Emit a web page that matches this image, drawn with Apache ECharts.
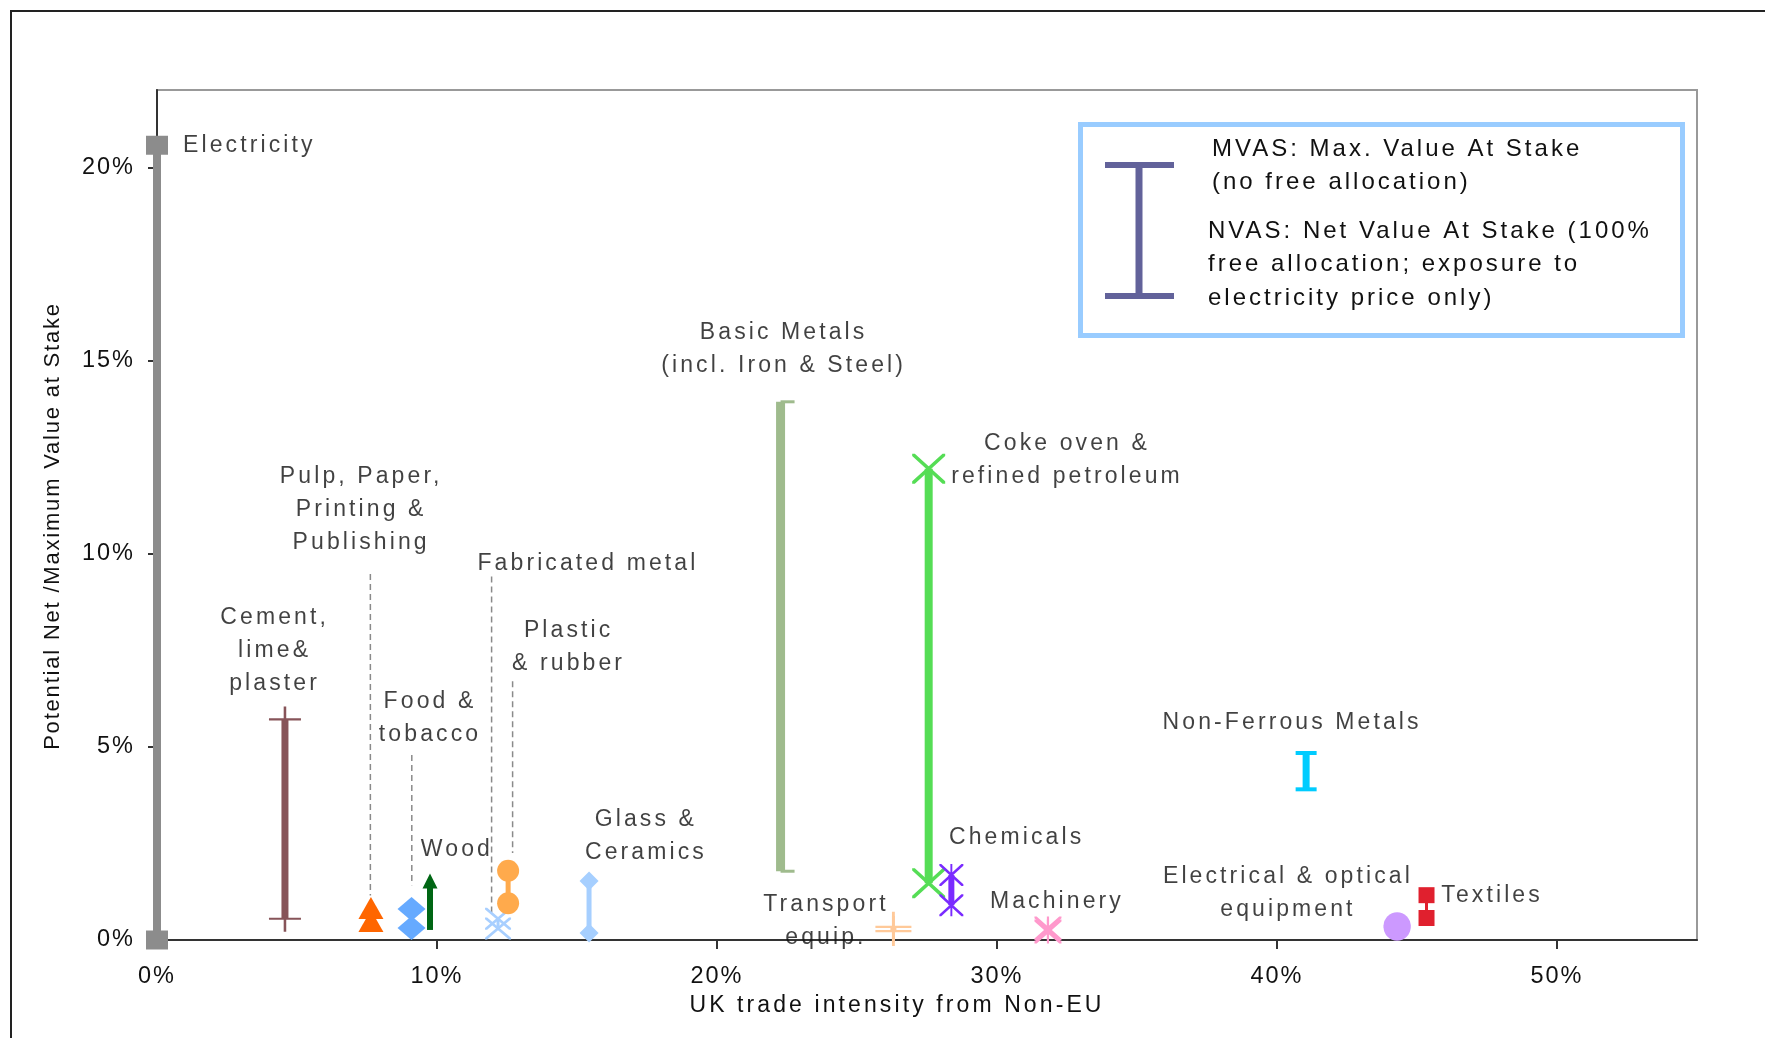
<!DOCTYPE html>
<html>
<head>
<meta charset="utf-8">
<script src="https://cdn.jsdelivr.net/npm/echarts@6/dist/echarts.min.js"></script>
<style>html,body{margin:0;padding:0;background:#fff}#c{width:1765px;height:1038px}</style>
</head>
<body>
<div id="c"></div>
<script>
// ---------- data ----------
const sectors = ['Electricity','Cement, lime& plaster','Pulp, Paper, Printing & Publishing','Food & tobacco','Wood','Fabricated metal','Plastic & rubber','Glass & Ceramics','Basic Metals (incl. Iron & Steel)','Coke oven & refined petroleum','Chemicals','Transport equip.','Machinery','Non-Ferrous Metals','Electrical & optical equipment','Textiles'];
const tradeIntensity = [0, 4.57, 7.64, 9.09, 9.75, 12.18, 12.54, 15.43, 22.27, 27.56, 28.37, 26.3, 31.82, 41.04, 44.29, 45.34];
const nvas = [0, 0.55, 0.49, 0.31, 0.26, 0.30, 0.95, 0.18, 1.78, 1.47, 0.90, 0.23, 0.22, 3.90, 0.33, 0.57];
const mvas = [20.57, 5.71, 0.83, 0.80, 1.53, 0.55, 1.79, 1.53, 13.93, 12.20, 1.68, 0.34, 0.30, 4.84, 0.37, 1.16];
const labelTexts = ['Electricity','Cement,\nlime&\nplaster','Pulp, Paper,\nPrinting &\nPublishing','Food &\ntobacco','Wood','Fabricated metal','Plastic\n& rubber','Glass &\nCeramics','Basic Metals\n(incl. Iron & Steel)','Coke oven &\nrefined petroleum','Chemicals','Transport\nequip.','Machinery','Non-Ferrous Metals','Electrical & optical\nequipment','Textiles'];
const xTicks = [0, 10, 20, 30, 40, 50];
const yTicks = [0, 5, 10, 15, 20];
const legendLines = ['MVAS: Max. Value At Stake', '(no free allocation)', 'NVAS: Net Value At Stake (100%', 'free allocation; exposure to', 'electricity price only)'];

// ---------- layout / style (kept apart from data) ----------
const PLUS = 'path://M0,46L100,46L100,54L0,54Z M46,0L54,0L54,100L46,100Z';
const XMARK = 'path://M0,0L8,0L100,92L100,100L92,100L0,8Z M92,0L100,0L100,8L8,100L0,100L0,92Z';
const STAR = 'path://M0,0L8,0L100,92L100,100L92,100L0,8Z M92,0L100,0L100,8L8,100L0,100L0,92Z M46,0L54,0L54,100L46,100Z';
const styles = [
  {color:'#8C8C8C', lw:8, sym:'rect', size:[22,19]},
  {color:'#875459', lw:7, sym:PLUS, size:[32,26]},
  {color:'#FF6600', lw:3, sym:'triangle', size:[25,22]},
  {color:'#66AAFF', lw:3, sym:'diamond', size:[28,24]},
  {color:'#006614', lw:6, sym:'triangle', size:[15,15], symLow:'none'},
  {color:'#A8CFFF', lw:3, sym:XMARK, size:[26,22]},
  {color:'#FFAA4C', lw:5, sym:'circle', size:22},
  {color:'#A6CFFF', lw:5, sym:'diamond', size:[19,19]},
  {color:'#9FBB8D', lw:9, sym:'rect', size:[14,3], off:[7,0]},
  {color:'#55DD55', lw:8, sym:XMARK, size:[33,30]},
  {color:'#7A2BFF', lw:6, sym:STAR, size:[24,22]},
  {color:'#FFC999', lw:6, sym:PLUS, size:[36,30]},
  {color:'#FF99CC', lw:4, sym:STAR, size:[27,24]},
  {color:'#00CCFF', lw:7, sym:'rect', size:[21,4]},
  {color:'#CC99FF', lw:4, sym:'circle', size:27},
  {color:'#E0202E', lw:3, sym:'rect', size:[16,16]}
];
// label anchors in axis units [x%, y%]
const labelAnchors = [
  {at:[0.93,20.57], align:'left'}, {at:[4.2,7.5]}, {at:[7.29,11.15]}, {at:[9.75,5.74]},
  {at:[10.71,2.33]}, {at:[15.39,9.75]}, {at:[14.7,7.58]}, {at:[17.46,2.69]},
  {at:[22.38,15.3]}, {at:[32.5,12.42]}, {at:[30.7,2.65]}, {at:[23.89,0.48]},
  {at:[32.14,0.99]}, {at:[40.54,5.63]}, {at:[40.39,1.2]}, {at:[45.87,1.16], align:'left'}
];
// dashed leader lines [x, yTop, yBottom] in axis units
const leaders = [[7.62,9.47,1.15],[9.1,4.79,1.42],[11.95,9.41,0.7],[12.7,6.7,2.25]];

// letter spacing like the original rendering (by font size)
const SPACING = {'22':1.8, '23':3.1, '23.5':2.0, '24':3.0};
(function(){
  const P = CanvasRenderingContext2D.prototype;
  if (!('letterSpacing' in P)) return;
  const f = P.fillText;
  P.fillText = function(t, x, y, w){
    const m = /(\d+(?:\.\d+)?)px/.exec(this.font);
    const k = m ? String(parseFloat(m[1])) : '';
    this.letterSpacing = (SPACING[k] !== undefined ? SPACING[k] : 0) + 'px';
    const r = w === undefined ? f.call(this, t, x, y) : f.call(this, t, x, y, w);
    this.letterSpacing = '0px';
    return r;
  };
})();

const FONT = '"Liberation Sans", Arial, sans-serif';
const TXT = '#111';
const chart = echarts.init(document.getElementById('c'), null, {renderer:'canvas'});

const series = [];
leaders.forEach(l => series.push({
  type:'line', symbol:'none', silent:true, z:2, clip:false, animation:false,
  lineStyle:{color:'#8a8a8a', width:1.5, type:[6,4]},
  data:[[l[0], l[1]], [l[0], l[2]]]
}));
sectors.forEach((name, i) => {
  const st = styles[i];
  series.push({
    type:'line', name, clip:false, z:3, silent:true, animation:false,
    emphasis:{disabled:true},
    lineStyle:{color:st.color, width:st.lw},
    itemStyle:{color:st.color, opacity:1},
    symbol:st.sym, symbolSize:st.size, symbolOffset:st.off || [0,0],
    data:[
      {value:[tradeIntensity[i], nvas[i]], symbol:st.symLow || st.sym},
      {value:[tradeIntensity[i], mvas[i]], symbol:st.symHigh || st.sym}
    ]
  });
});
series.push({
  type:'scatter', z:5, silent:true, animation:false, symbolSize:1,
  itemStyle:{color:'rgba(0,0,0,0)'},
  label:{show:true, position:'inside', formatter:p => p.data.text, fontSize:23, fontFamily:FONT, color:TXT, lineHeight:33},
  data:sectors.map((n, i) => ({name:n, value:labelAnchors[i].at, text:labelTexts[i], label:{align:labelAnchors[i].align || 'center'}}))
});

const IB = '#62629A';
const graphic = [
  {type:'rect', silent:true, z:0, shape:{x:11, y:11, width:1800, height:1100}, style:{fill:'none', stroke:'#222', lineWidth:2}},
  {type:'rect', silent:true, z:100, shape:{x:1080.5, y:124.5, width:602, height:211}, style:{fill:'#fff', stroke:'#99CCFF', lineWidth:5}},
  {type:'rect', silent:true, z:101, shape:{x:1105, y:162, width:69, height:6}, style:{fill:IB}},
  {type:'rect', silent:true, z:101, shape:{x:1105, y:293, width:69, height:6}, style:{fill:IB}},
  {type:'rect', silent:true, z:101, shape:{x:1135.5, y:165, width:7, height:131}, style:{fill:IB}}
];
const legendPos = [[1212,149],[1212,182],[1208,231],[1208,264.5],[1208,298]];
legendLines.forEach((t, i) => graphic.push({
  type:'text', silent:true, z:101, x:legendPos[i][0], y:legendPos[i][1],
  style:{text:t, font:'24px ' + FONT, fill:TXT, align:'left', verticalAlign:'middle'}
}));

chart.setOption({
  animation:false,
  backgroundColor:'#fff',
  grid:{left:157, top:90, right:68, bottom:98, show:true, borderColor:'#999', borderWidth:2, backgroundColor:'transparent'},
  xAxis:{
    type:'value', min:0, max:55, interval:10,
    name:'UK trade intensity from Non-EU', nameLocation:'middle', nameGap:51,
    nameTextStyle:{fontSize:23, fontFamily:FONT, color:TXT, padding:[0,60,0,0]},
    axisLine:{show:true, onZero:false, lineStyle:{color:'#333', width:2}},
    axisTick:{show:true, inside:false, length:9, customValues:xTicks, lineStyle:{color:'#333', width:2}},
    axisLabel:{show:true, margin:25, customValues:xTicks, formatter:'{value}%', fontSize:23.5, fontFamily:FONT, color:TXT},
    splitLine:{show:false}
  },
  yAxis:{
    type:'value', min:0, max:22, interval:5,
    name:'Potential Net /Maximum Value at Stake', nameLocation:'middle', nameRotate:90, nameGap:93,
    nameTextStyle:{fontSize:22, fontFamily:FONT, color:TXT, padding:[0,22,0,0]},
    axisLine:{show:true, onZero:false, lineStyle:{color:'#333', width:2}},
    axisTick:{show:true, inside:false, length:9, customValues:yTicks, lineStyle:{color:'#333', width:2}},
    axisLabel:{show:true, margin:22, customValues:yTicks, formatter:'{value}%', fontSize:23.5, fontFamily:FONT, color:TXT},
    splitLine:{show:false}
  },
  graphic:graphic,
  series:series
});
</script>
</body>
</html>
